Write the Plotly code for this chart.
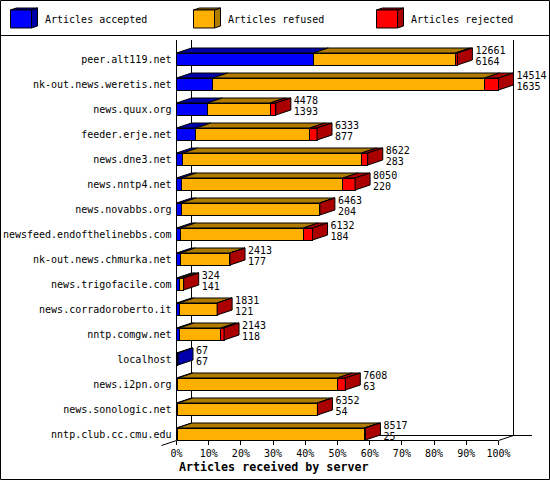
import plotly.graph_objects as go

servers = ["peer.alt119.net", "nk-out.news.weretis.net", "news.quux.org", "feeder.erje.net",
           "news.dne3.net", "news.nntp4.net", "news.novabbs.org", "newsfeed.endofthelinebbs.com",
           "nk-out.news.chmurka.net", "news.trigofacile.com", "news.corradoroberto.it",
           "nntp.comgw.net", "localhost", "news.i2pn.org", "news.sonologic.net", "nntp.club.cc.cmu.edu"]
totals = [12661, 14514, 4478, 6333, 8622, 8050, 6463, 6132, 2413, 324, 1831, 2143, 67, 7608, 6352, 8517]
accepted = [6164, 1635, 1393, 877, 283, 220, 204, 184, 177, 141, 121, 118, 67, 63, 54, 25]
refused = [6397, 12249, 2825, 5136, 8059, 7280, 6249, 5528, 2228, 168, 1705, 1875, 0, 7185, 6293, 8442]
rejected = [100, 630, 260, 320, 280, 550, 10, 420, 8, 15, 5, 150, 0, 360, 5, 50]
tick_percent = [0, 10, 20, 30, 40, 50, 60, 70, 80, 90, 100]

W, H = 550, 480
PL, PR, PT, PB = 176.5, 498.5, 40.0, 440.0
PEXT = 548.0                   # the axes run on to here so the depth and labels of the longest bar stay in range
XMAX = max(totals)
PX = XMAX / (PR - PL)          # articles per pixel
ROW = 25.0                     # pixels per row
DX = 15 * PX                   # depth of the 3D effect, in x units
DY = 5 / ROW                   # depth, in row units
HALF = 0.24
BLUE, BLUE_D = "#0000ff", "#0000aa"
ORANGE, ORANGE_D = "#ffb000", "#b07c00"
RED, RED_D = "#ff0000", "#aa0000"
FONT = "DejaVu Sans Mono"


def fx(px):
    return px / W


def fy(py):
    return 1 - py / H


rows = list(range(len(servers)))
fig = go.Figure()

for name, vals, col in (("Articles accepted", accepted, BLUE),
                        ("Articles refused", refused, ORANGE),
                        ("Articles rejected", rejected, RED)):
    fig.add_trace(go.Bar(y=rows, x=vals, name=name, orientation="h", width=HALF * 2,
                         marker=dict(color=col, line=dict(color="black", width=1)),
                         showlegend=False, hoverinfo="skip"))


def poly(trace_x, trace_y, col):
    fig.add_trace(go.Scatter(x=trace_x, y=trace_y, mode="lines", fill="toself", fillcolor=col,
                             line=dict(color="black", width=1), cliponaxis=False,
                             showlegend=False, hoverinfo="skip"))


tops = {BLUE: ([], []), ORANGE: ([], []), RED: ([], [])}
sides = {BLUE: ([], []), ORANGE: ([], []), RED: ([], [])}
for i in rows:
    start = 0
    last = BLUE
    for vals, col in ((accepted, BLUE), (refused, ORANGE), (rejected, RED)):
        v = vals[i]
        if v <= 0:
            continue
        y0 = i - HALF
        tops[col][0].extend([start, start + v, start + v + DX, start + DX, start, None])
        tops[col][1].extend([y0, y0, y0 - DY, y0 - DY, y0, None])
        start += v
        last = col
    y0, y1 = i - HALF, i + HALF
    sides[last][0].extend([start, start + DX, start + DX, start, start, None])
    sides[last][1].extend([y0, y0 - DY, y1 - DY, y1, y0, None])

for col, dark in ((BLUE, BLUE_D), (ORANGE, ORANGE_D), (RED, RED_D)):
    poly(tops[col][0], tops[col][1], dark)
for col, dark in ((BLUE, BLUE_D), (ORANGE, ORANGE_D), (RED, RED_D)):
    if sides[col][0]:
        poly(sides[col][0], sides[col][1], dark)

label_x = [t + DX + 3 * PX for t in totals]
fig.add_trace(go.Scatter(x=label_x, y=[i - 8 / ROW for i in rows], text=[str(v) for v in totals],
                         mode="text", textposition="middle right", cliponaxis=False,
                         textfont=dict(family=FONT, size=10, color="black"),
                         showlegend=False, hoverinfo="skip"))
fig.add_trace(go.Scatter(x=label_x, y=[i + 3 / ROW for i in rows], text=[str(v) for v in accepted],
                         mode="text", textposition="middle right", cliponaxis=False,
                         textfont=dict(family=FONT, size=10, color="black"),
                         showlegend=False, hoverinfo="skip"))

shapes = []


def line(x0, y0, x1, y1, layer="below"):
    shapes.append(dict(type="line", xref="paper", yref="paper", x0=fx(x0), y0=fy(y0), x1=fx(x1), y1=fy(y1),
                       line=dict(color="black", width=1), layer=layer))


# frame
shapes.append(dict(type="rect", xref="paper", yref="paper", x0=fx(0.5), x1=fx(549.5), y0=fy(0.5), y1=fy(479.5),
                   line=dict(color="black", width=1), fillcolor="rgba(0,0,0,0)", layer="above"))
line(0, 35.5, 550, 35.5)
# walls and floor
line(191.5, 40, 191.5, 435.5)
line(513.5, 40, 513.5, 435.5)
line(191.5, 435.5, 532, 435.5)
line(176.5, 440.5, 498.5, 440.5)
line(161.5, 445.5, 176.5, 440.5)
line(498.5, 440.5, 513.5, 435.5)


def cube(x0, col, dark):
    for xs, ys, c in (([x0 + 21, x0 + 27, x0 + 27, x0 + 21], [10, 8, 26, 28], dark),
                      ([x0, x0 + 6, x0 + 27, x0 + 21], [10, 8, 8, 10], dark),
                      ([x0, x0 + 21, x0 + 21, x0], [10, 10, 28, 28], col)):
        path = "M" + "L".join(f"{fx(a):.5f},{fy(b):.5f}" for a, b in zip(xs, ys)) + "Z"
        shapes.append(dict(type="path", xref="paper", yref="paper", path=path, fillcolor=c,
                           line=dict(color="black", width=1), layer="above"))


annotations = []
for x0, tx, name, col, dark in ((10.5, 44, "Articles accepted", BLUE, BLUE_D),
                                (193.5, 227, "Articles refused", ORANGE, ORANGE_D),
                                (376.5, 410, "Articles rejected", RED, RED_D)):
    cube(x0, col, dark)
    annotations.append(dict(xref="paper", yref="paper", x=fx(tx), y=fy(20), text=name, showarrow=False,
                            xanchor="left", yanchor="middle", xshift=0, borderpad=0,
                            font=dict(family=FONT, size=10, color="black")))
annotations.append(dict(xref="paper", yref="paper", x=fx(273.5), y=fy(467), text="<b>Articles received by server</b>",
                        showarrow=False, xanchor="center", yanchor="middle",
                        font=dict(family=FONT, size=11.66, color="black")))

fig.update_layout(
    width=W, height=H, margin=dict(l=0, r=0, t=0, b=0, autoexpand=False), autosize=False,
    paper_bgcolor="white", plot_bgcolor="white", barmode="stack", showlegend=False,
    shapes=shapes, annotations=annotations,
    xaxis=dict(domain=[fx(PL), fx(PEXT)], range=[0, (PEXT - PL) * PX], tickmode="array",
               tickvals=[p * XMAX / 100 for p in tick_percent], ticktext=[f"{p}%" for p in tick_percent],
               ticks="outside", ticklen=4, tickwidth=1, tickcolor="black", showgrid=False, zeroline=False,
               showline=False,
               tickfont=dict(family=FONT, size=10, color="black")),
    yaxis=dict(domain=[fy(PB), fy(PT)], range=[(PB - 59) / ROW, (PT - 59) / ROW], tickmode="array",
               tickvals=rows, ticktext=servers, ticks="outside", ticklen=2, tickcolor="rgba(0,0,0,0)",
               showgrid=False, zeroline=False, showline=True, linecolor="black", linewidth=1,
               tickfont=dict(family=FONT, size=10, color="black")),
)
fig.write_html("out.html", config=dict(displayModeBar=False),
               post_script="document.body.style.margin='0';")
